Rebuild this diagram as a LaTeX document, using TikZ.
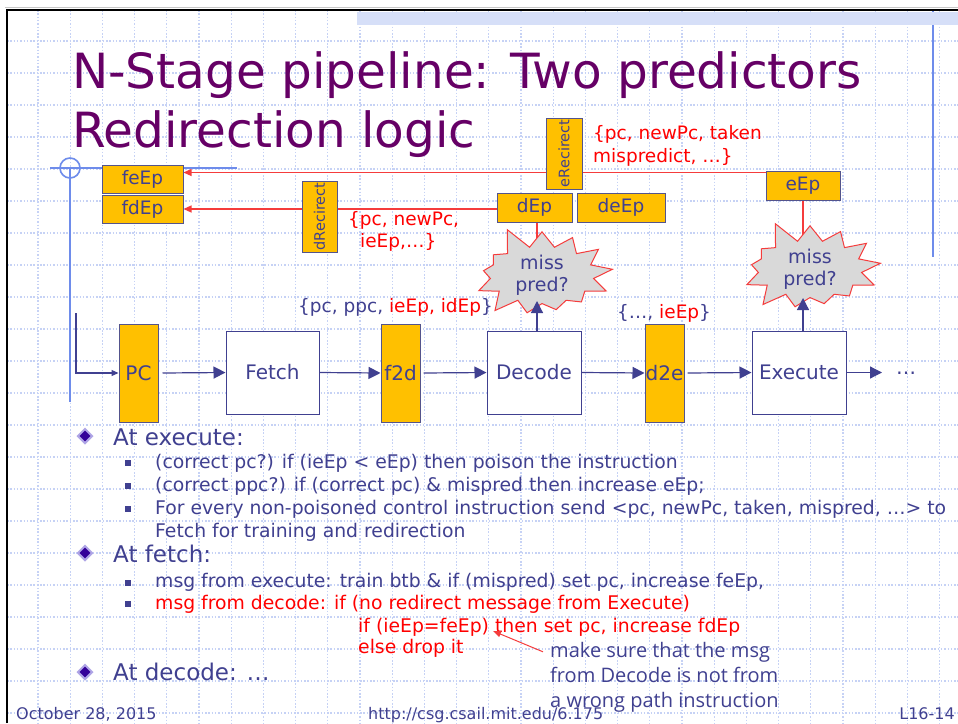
\documentclass[tikz,border=0pt]{standalone}
\usepackage{fontspec}
\setmainfont{DejaVu Sans}
\newfontfamily\notefont{Open Sans}
\usetikzlibrary{arrows.meta,shapes.symbols,shapes.geometric}
\definecolor{titlec}{RGB}{102,0,102}
\definecolor{txt}{RGB}{64,64,144}
\definecolor{regc}{RGB}{255,192,0}
\definecolor{regline}{RGB}{84,84,140}
\definecolor{redc}{RGB}{255,0,0}
\definecolor{redl}{RGB}{245,60,60}
\definecolor{gridc}{RGB}{198,210,245}
\definecolor{guide}{RGB}{110,140,235}
\definecolor{starc}{RGB}{217,217,217}
\definecolor{bandc}{RGB}{214,223,248}
\definecolor{diamc}{RGB}{51,0,153}
\definecolor{diamo}{RGB}{175,165,230}
\newcommand{\myfs}[2]{\fontsize{#1}{#2}\selectfont}
\pgfdeclarelayer{gridlayer}
\pgfdeclarelayer{backlayer}
\pgfsetlayers{gridlayer,backlayer,main}
\begin{document}
\begin{tikzpicture}[x=1pt,y=-1pt,
  reg/.style={draw=regline, fill=regc, line width=1pt, inner sep=0pt, text=txt, font=\myfs{18.5}{22}},
  pipereg/.style={reg, minimum width=39pt, minimum height=98pt, font=\myfs{20}{24}},
  stagebox/.style={draw=txt, fill=white, line width=1pt, inner sep=0pt, text=txt,
     minimum width=94pt, minimum height=83pt, font=\myfs{20}{24}},
  flow/.style={draw=txt, line width=1.2pt, -{Triangle[length=12pt,width=12pt]}},
  smallflow/.style={draw=txt, line width=1.2pt, -{Triangle[length=7pt,width=6pt]}},
  redarrow/.style={draw=redl, line width=1.2pt, -{Triangle[length=8pt,width=7pt]}},
  redline/.style={draw=redl, line width=1.2pt},
  gridline/.style={draw=gridc, line width=1.2pt, dash pattern=on 1.5pt off 1.8pt},
  guideline/.style={draw=guide, line width=1.6pt},
  burst/.style={starburst, starburst points=13, starburst point height=24pt, random starburst=5,
     draw=redl, fill=starc, line width=1pt, text=txt, align=center, inner sep=0pt,
     font=\myfs{19}{22}, minimum width=152pt, minimum height=84pt},
  body/.style={anchor=base west, inner sep=0pt, text=txt},
  lvl1/.style={body, font=\myfs{23}{27}},
  lvl2/.style={body, font=\myfs{18.8}{22}},
  lbl/.style={anchor=base west, inner sep=0pt, text=txt, font=\myfs{18.5}{22}},
  rlbl/.style={anchor=base west, inner sep=0pt, text=redc, font=\myfs{18.5}{22}},
  dbullet/.style={diamond, fill=diamc, draw=diamo, line width=2pt, minimum width=15pt, minimum height=15pt, inner sep=0pt},
  sbullet/.style={fill=txt, minimum size=5.5pt, inner sep=0pt},
  foot/.style={anchor=base west, inner sep=0pt, text=txt, font=\myfs{16}{19}}
]
\useasboundingbox (0,0) rectangle (958,723);
% grid
\begin{pgfonlayer}{gridlayer}
\fill[white] (0,0) rectangle (958,723);
\foreach \i in {0,...,28} \draw[gridline] ({38+32.2*\i},10) -- ({38+32.2*\i},723);
\foreach \j in {0,...,21} \draw[gridline] (7,{41+32*\j}) -- (958,{41+32*\j});
\end{pgfonlayer}
% slide frame and band
\fill[bandc] (357,12) rectangle (958,25);
\draw[gray!45, line width=1.5pt] (5,7.5) -- (958,7.5);
\draw[black, line width=2.5pt] (7,723) -- (7,10) -- (958,10);

% title
\node[anchor=base west, inner sep=0pt, text=titlec, font=\myfs{48.5}{58}] (title1) at (72,88) {N-Stage pipeline: Two predictors};
\node[anchor=base west, inner sep=0pt, text=titlec, font=\myfs{48.5}{58}] (title2) at (72,147) {Redirection logic};

% epoch registers
\node[reg, minimum width=81pt, minimum height=28pt] (feEp) at (142.5,179) {feEp};
\node[reg, minimum width=81pt, minimum height=28pt] (fdEp) at (142.5,209) {fdEp};
\node[reg, rotate=90, minimum width=71pt, minimum height=35pt, font=\myfs{14.5}{17}] (dRec) at (319.5,216.5) {dRecirect};
\node[reg, rotate=90, minimum width=71pt, minimum height=36pt, font=\myfs{14.5}{17}] (eRec) at (564,153.5) {eRecirect};
\node[reg, minimum width=74pt, minimum height=29pt] (eEp) at (803,185.5) {eEp};
\node[reg, minimum width=75pt, minimum height=29pt] (dEp) at (534.5,207.5) {dEp};
\node[reg, minimum width=88pt, minimum height=29pt] (deEp) at (621,207.5) {deEp};

% labels of the redirect messages
\node[rlbl] (dmsg1) at (348,225) {\{pc, newPc,};
\node[rlbl] (dmsg2) at (360,247) {ieEp,…\}};
\node[rlbl] (emsg1) at (593,139) {\{pc, newPc, taken};
\node[rlbl] (emsg2) at (593,162) {mispredict, …\}};

% miss-prediction bursts
\node[burst] (sb1) at (542,275) {miss\\pred?};
\node[burst] (sb2) at (810,269) {miss\\pred?};

% pipeline
\node[pipereg] (PC) at (138.5,373) {PC};
\node[stagebox, minimum width=93pt] (fetch) at (272.5,372.5) {Fetch};
\node[pipereg] (f2d) at (400.5,373) {f2d};
\node[stagebox] (decode) at (534,372.5) {Decode};
\node[pipereg] (d2e) at (664.5,373) {d2e};
\node[stagebox] (execute) at (799,372.5) {Execute};
\node[anchor=base, inner sep=0pt, text=txt, font=\myfs{20}{24}] (dots) at (906,374) {…};

\node[lbl] (f2dlbl) at (298,312) {\{pc, ppc, \textcolor{redc}{ieEp, idEp}\}};
\node[lbl] (d2elbl) at (617,318) {\{…, \textcolor{redc}{ieEp}\}};

\coordinate (fbtop) at (76,313);
\coordinate (outp) at (882,372.5);
\coordinate (sb1in) at (537,301);
\coordinate (sb2in) at (803,298);

\draw[flow] (PC.east) ++(4,0) -- (fetch.west);
\draw[flow] (fetch.east) -- (f2d.west);
\draw[flow] ([xshift=3pt]f2d.east) -- (decode.west);
\draw[flow] (decode.east) -- (d2e.west);
\draw[flow] ([xshift=3pt]d2e.east) -- (execute.west);
\draw[flow] (execute.east) -- (outp);
\draw[smallflow] (fbtop) |- (PC.west);
\draw[flow] (decode.north -| sb1in) -- (sb1in);
\draw[flow] (execute.north -| sb2in) -- (sb2in);

% redirect paths and guides, behind the boxes
\coordinate (eline) at ([yshift=-2pt]eEp.north west);
\begin{pgfonlayer}{backlayer}
\draw[redarrow] (eline) -- (eline -| feEp.east);
\draw[redarrow] ([yshift=-1.5pt]dEp.west) -- ([yshift=-1.5pt]dEp.west -| fdEp.east);
\draw[redline] (sb1in |- dEp.south) -- (sb1in |- sb1.center);
\draw[redline] (sb2in |- eEp.south) -- (sb2in |- sb2.center);
\draw[guideline] (70,168) -- (70,402);
\draw[guideline] (50,168) -- (237,168);
\draw[guideline] (70,168) circle (10pt);
\draw[guideline] (933,10) -- (933,257);
\end{pgfonlayer}

% bullet text
\node[dbullet] (b1) at (85,436) {};
\node[lvl1] (t1) at (113,445) {At execute:};
\node[sbullet] (s1) at (128,463) {};
\node[lvl2] (t11) at (155,468) {(correct pc?) if (ieEp < eEp) then poison the instruction};
\node[sbullet] (s2) at (128,486) {};
\node[lvl2] (t12) at (155,491) {(correct ppc?) if (correct pc) \& mispred then increase eEp;};
\node[sbullet] (s3) at (128,509) {};
\node[lvl2] (t13) at (155,514) {For every non-poisoned control instruction send <pc, newPc, taken, mispred, …> to};
\node[lvl2] (t13b) at (155,537) {Fetch for training and redirection};
\node[dbullet] (b2) at (85,553) {};
\node[lvl1] (t2) at (113,562) {At fetch:};
\node[sbullet] (s4) at (128,583) {};
\node[lvl2] (t21) at (155,587) {msg from execute: train btb \& if (mispred) set pc, increase feEp,};
\node[sbullet] (s5) at (128,604) {};
\node[lvl2, text=redc] (t22) at (155,609) {msg from decode: if (no redirect message from Execute)};
\node[lvl2, text=redc] (t22b) at (358,632) {if (ieEp=feEp) then set pc, increase fdEp};
\node[lvl2, text=redc] (t22c) at (358,653) {else drop it};
\node[dbullet] (b3) at (85,672) {};
\node[lvl1] (t3) at (113,680) {At decode: …};

% note
\node[body, font=\notefont\myfs{20}{25}] (note1) at (550,657) {make sure that the msg};
\node[body, font=\notefont\myfs{20}{25}] (note2) at (550,682) {from Decode is not from};
\node[body, font=\notefont\myfs{20}{25}] (note3) at (550,707) {a wrong path instruction};
\coordinate (notetgt) at (493,631);
\draw[draw=redl, line width=1pt, -{Triangle[length=8pt,width=6pt]}] ([xshift=-7pt]note1.west) -- (notetgt);

% footer
\node[foot] (date) at (16,719) {October 28, 2015};
\node[foot] (url) at (368,719) {http://csg.csail.mit.edu/6.175};
\node[foot, anchor=base east] (page) at (955,719) {L16-14};
\end{tikzpicture}
\end{document}
